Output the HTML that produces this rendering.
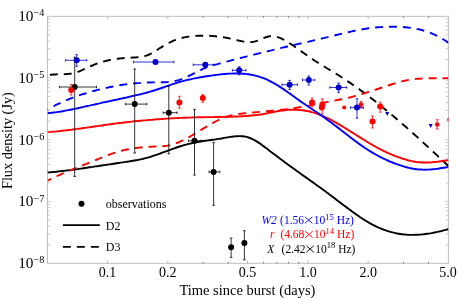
<!DOCTYPE html><html><head><meta charset="utf-8"><style>html,body{margin:0;padding:0;background:#fff;width:458px;height:299px;overflow:hidden}</style></head><body><svg width="458" height="299" viewBox="0 0 458 299" style="position:absolute;left:0;top:0;will-change:transform">
<defs><clipPath id="c"><rect x="47.5" y="16.3" width="400.9" height="247.0"/></clipPath></defs>
<rect x="47.5" y="16.3" width="400.9" height="247.0" fill="none" stroke="#bebebe" stroke-width="1"/>
<path d="M203.1,263.3v-1.4M203.1,16.3v1.4M228.2,263.3v-1.4M228.2,16.3v1.4M263.4,263.3v-1.4M263.4,16.3v1.4M276.9,263.3v-1.4M276.9,16.3v1.4M288.5,263.3v-1.4M288.5,16.3v1.4M298.7,263.3v-1.4M298.7,16.3v1.4M403.5,263.3v-1.4M403.5,16.3v1.4M428.6,263.3v-1.4M428.6,16.3v1.4" stroke="#484848" stroke-width="0.8" fill="none"/>
<path d="M107.5,263.3v-2.6M107.5,16.3v2.6M167.8,263.3v-2.6M167.8,16.3v2.6M247.6,263.3v-2.6M247.6,16.3v2.6M307.9,263.3v-2.6M307.9,16.3v2.6M368.2,263.3v-2.6M368.2,16.3v2.6" stroke="#b0b0b0" stroke-width="0.9" fill="none"/>
<path d="M47.5,244.7h2.6M448.4,244.7h-2.6M47.5,233.8h2.6M448.4,233.8h-2.6M47.5,226.1h2.6M448.4,226.1h-2.6M47.5,220.1h2.6M448.4,220.1h-2.6M47.5,215.2h2.6M448.4,215.2h-2.6M47.5,211.1h2.6M448.4,211.1h-2.6M47.5,207.5h2.6M448.4,207.5h-2.6M47.5,204.4h2.6M448.4,204.4h-2.6M47.5,201.6h3.4M448.4,201.6h-3.4M47.5,183.0h2.6M448.4,183.0h-2.6M47.5,172.1h2.6M448.4,172.1h-2.6M47.5,164.4h2.6M448.4,164.4h-2.6M47.5,158.4h2.6M448.4,158.4h-2.6M47.5,153.5h2.6M448.4,153.5h-2.6M47.5,149.4h2.6M448.4,149.4h-2.6M47.5,145.8h2.6M448.4,145.8h-2.6M47.5,142.6h2.6M448.4,142.6h-2.6M47.5,139.8h3.4M448.4,139.8h-3.4M47.5,121.2h2.6M448.4,121.2h-2.6M47.5,110.3h2.6M448.4,110.3h-2.6M47.5,102.6h2.6M448.4,102.6h-2.6M47.5,96.6h2.6M448.4,96.6h-2.6M47.5,91.7h2.6M448.4,91.7h-2.6M47.5,87.6h2.6M448.4,87.6h-2.6M47.5,84.0h2.6M448.4,84.0h-2.6M47.5,80.9h2.6M448.4,80.9h-2.6M47.5,78.0h3.4M448.4,78.0h-3.4M47.5,59.5h2.6M448.4,59.5h-2.6M47.5,48.6h2.6M448.4,48.6h-2.6M47.5,40.9h2.6M448.4,40.9h-2.6M47.5,34.9h2.6M448.4,34.9h-2.6M47.5,30.0h2.6M448.4,30.0h-2.6M47.5,25.9h2.6M448.4,25.9h-2.6M47.5,22.3h2.6M448.4,22.3h-2.6M47.5,19.1h2.6M448.4,19.1h-2.6" stroke="#bbbbbb" stroke-width="0.8" fill="none"/>
<g clip-path="url(#c)" fill="none" stroke-width="1.9" stroke-linejoin="round">
<path d="M47.5,172.6 C48.0,172.5 49.5,172.4 50.5,172.3 C51.5,172.2 52.5,172.1 53.5,172.0 C54.5,171.9 55.5,171.8 56.5,171.7 C57.5,171.6 58.5,171.5 59.5,171.3 C60.5,171.2 61.5,171.1 62.5,171.0 C63.5,170.9 64.5,170.8 65.5,170.6 C66.5,170.5 67.5,170.4 68.5,170.3 C69.5,170.1 70.5,170.0 71.5,169.9 C72.5,169.7 73.5,169.6 74.5,169.5 C75.5,169.3 76.5,169.2 77.5,169.1 C78.5,168.9 79.5,168.8 80.5,168.6 C81.5,168.5 82.5,168.4 83.5,168.2 C84.5,168.1 85.5,167.9 86.5,167.8 C87.5,167.6 88.5,167.5 89.5,167.3 C90.5,167.2 91.5,167.0 92.5,166.9 C93.5,166.7 94.5,166.6 95.5,166.4 C96.5,166.3 97.5,166.1 98.5,166.0 C99.5,165.8 100.5,165.7 101.5,165.5 C102.5,165.4 103.5,165.2 104.5,165.1 C105.5,164.9 106.5,164.8 107.5,164.6 C108.5,164.5 109.5,164.3 110.5,164.2 C111.5,164.0 112.5,163.9 113.5,163.7 C114.5,163.5 115.5,163.4 116.5,163.2 C117.5,163.1 118.5,162.9 119.5,162.8 C120.5,162.6 121.5,162.5 122.5,162.4 C123.5,162.2 124.5,162.1 125.5,161.9 C126.5,161.8 127.5,161.6 128.5,161.5 C129.5,161.3 130.5,161.2 131.5,161.0 C132.5,160.8 133.5,160.7 134.5,160.5 C135.5,160.3 136.5,160.1 137.5,160.0 C138.5,159.8 139.5,159.6 140.5,159.4 C141.5,159.1 142.5,158.9 143.5,158.7 C144.5,158.5 145.5,158.2 146.5,157.9 C147.5,157.7 148.5,157.4 149.5,157.1 C150.5,156.8 151.5,156.5 152.5,156.2 C153.5,155.8 154.5,155.5 155.5,155.2 C156.5,154.8 157.5,154.5 158.5,154.1 C159.5,153.7 160.5,153.4 161.5,153.0 C162.5,152.6 163.5,152.3 164.5,151.9 C165.5,151.5 166.5,151.2 167.5,150.8 C168.5,150.4 169.5,150.0 170.5,149.7 C171.5,149.3 172.5,148.9 173.5,148.6 C174.5,148.2 175.5,147.9 176.5,147.5 C177.5,147.2 178.5,146.9 179.5,146.5 C180.5,146.2 181.5,145.9 182.5,145.6 C183.5,145.3 184.5,145.0 185.5,144.7 C186.5,144.4 187.5,144.2 188.5,143.9 C189.5,143.7 190.5,143.4 191.5,143.2 C192.5,143.0 193.5,142.8 194.5,142.6 C195.5,142.4 196.5,142.2 197.5,142.0 C198.5,141.8 199.5,141.7 200.5,141.5 C201.5,141.3 202.5,141.2 203.5,141.0 C204.5,140.9 205.5,140.7 206.5,140.6 C207.5,140.5 208.5,140.3 209.5,140.2 C210.5,140.1 211.5,139.9 212.5,139.8 C213.5,139.7 214.5,139.5 215.5,139.4 C216.5,139.2 217.5,139.1 218.5,138.9 C219.5,138.8 220.5,138.6 221.5,138.5 C222.5,138.3 223.5,138.1 224.5,137.9 C225.5,137.8 226.5,137.6 227.5,137.4 C228.5,137.2 229.5,137.1 230.5,136.9 C231.5,136.8 232.5,136.6 233.5,136.5 C234.5,136.4 235.5,136.3 236.5,136.2 C237.5,136.1 238.5,136.1 239.5,136.1 C240.5,136.1 241.5,136.1 242.5,136.2 C243.5,136.3 244.5,136.4 245.5,136.6 C246.5,136.9 247.5,137.1 248.5,137.5 C249.5,137.8 250.5,138.2 251.5,138.7 C252.5,139.1 253.5,139.6 254.5,140.2 C255.5,140.7 256.5,141.3 257.5,141.9 C258.5,142.6 259.5,143.2 260.5,143.9 C261.5,144.6 262.5,145.4 263.5,146.1 C264.5,146.8 265.5,147.6 266.5,148.3 C267.5,149.1 268.5,149.9 269.5,150.7 C270.5,151.4 271.5,152.2 272.5,153.0 C273.5,153.7 274.5,154.5 275.5,155.2 C276.5,156.0 277.5,156.7 278.5,157.5 C279.5,158.3 280.5,159.0 281.5,159.7 C282.5,160.5 283.5,161.2 284.5,162.0 C285.5,162.7 286.5,163.4 287.5,164.2 C288.5,164.9 289.5,165.6 290.5,166.4 C291.5,167.1 292.5,167.8 293.5,168.5 C294.5,169.2 295.5,170.0 296.5,170.7 C297.5,171.4 298.5,172.1 299.5,172.8 C300.5,173.5 301.5,174.3 302.5,175.0 C303.5,175.7 304.5,176.4 305.5,177.1 C306.5,177.8 307.5,178.5 308.5,179.2 C309.5,179.9 310.5,180.7 311.5,181.4 C312.5,182.1 313.5,182.8 314.5,183.5 C315.5,184.2 316.5,184.9 317.5,185.7 C318.5,186.4 319.5,187.1 320.5,187.8 C321.5,188.6 322.5,189.3 323.5,190.0 C324.5,190.7 325.5,191.5 326.5,192.2 C327.5,193.0 328.5,193.7 329.5,194.5 C330.5,195.2 331.5,196.0 332.5,196.7 C333.5,197.5 334.5,198.2 335.5,199.0 C336.5,199.8 337.5,200.5 338.5,201.3 C339.5,202.0 340.5,202.8 341.5,203.6 C342.5,204.3 343.5,205.1 344.5,205.8 C345.5,206.6 346.5,207.4 347.5,208.1 C348.5,208.9 349.5,209.6 350.5,210.3 C351.5,211.1 352.5,211.8 353.5,212.5 C354.5,213.2 355.5,213.9 356.5,214.6 C357.5,215.3 358.5,216.0 359.5,216.7 C360.5,217.4 361.5,218.0 362.5,218.7 C363.5,219.3 364.5,220.0 365.5,220.6 C366.5,221.2 367.5,221.8 368.5,222.4 C369.5,222.9 370.5,223.5 371.5,224.1 C372.5,224.6 373.5,225.1 374.5,225.6 C375.5,226.1 376.5,226.6 377.5,227.1 C378.5,227.5 379.5,228.0 380.5,228.4 C381.5,228.8 382.5,229.2 383.5,229.6 C384.5,230.0 385.5,230.3 386.5,230.7 C387.5,231.0 388.5,231.3 389.5,231.6 C390.5,231.9 391.5,232.2 392.5,232.4 C393.5,232.7 394.5,232.9 395.5,233.1 C396.5,233.4 397.5,233.6 398.5,233.7 C399.5,233.9 400.5,234.1 401.5,234.2 C402.5,234.3 403.5,234.4 404.5,234.5 C405.5,234.6 406.5,234.7 407.5,234.8 C408.5,234.8 409.5,234.9 410.5,234.9 C411.5,234.9 412.5,234.9 413.5,234.9 C414.5,234.9 415.5,234.9 416.5,234.8 C417.5,234.8 418.5,234.7 419.5,234.6 C420.5,234.6 421.5,234.5 422.5,234.4 C423.5,234.3 424.5,234.1 425.5,234.0 C426.5,233.9 427.5,233.7 428.5,233.6 C429.5,233.4 430.5,233.2 431.5,233.1 C432.5,232.9 433.5,232.7 434.5,232.5 C435.5,232.3 436.5,232.1 437.5,231.9 C438.5,231.6 439.5,231.4 440.5,231.2 C441.5,230.9 442.5,230.7 443.5,230.4 C444.5,230.2 445.7,229.9 446.5,229.7 C447.3,229.4 448.2,229.2 448.5,229.1" stroke="#000000"/>
<path d="M47.5,75.3 C48.0,75.2 49.5,74.9 50.5,74.8 C51.5,74.7 52.5,74.6 53.5,74.5 C54.5,74.5 55.5,74.4 56.5,74.4 C57.5,74.3 58.5,74.3 59.5,74.3 C60.5,74.3 61.5,74.3 62.5,74.2 C63.5,74.2 64.5,74.2 65.5,74.1 C66.5,74.0 67.5,74.0 68.5,73.9 C69.5,73.8 70.5,73.6 71.5,73.5 C72.5,73.3 73.5,73.1 74.5,72.8 C75.5,72.6 76.5,72.2 77.5,71.9 C78.5,71.6 79.5,71.2 80.5,70.8 C81.5,70.4 82.5,70.0 83.5,69.5 C84.5,69.1 85.5,68.6 86.5,68.2 C87.5,67.7 88.5,67.2 89.5,66.8 C90.5,66.3 91.5,65.9 92.5,65.5 C93.5,65.0 94.5,64.6 95.5,64.2 C96.5,63.8 97.5,63.5 98.5,63.1 C99.5,62.8 100.5,62.4 101.5,62.1 C102.5,61.8 103.5,61.5 104.5,61.3 C105.5,61.0 106.5,60.8 107.5,60.5 C108.5,60.3 109.5,60.1 110.5,59.9 C111.5,59.7 112.5,59.5 113.5,59.3 C114.5,59.2 115.5,59.0 116.5,58.9 C117.5,58.7 118.5,58.6 119.5,58.5 C120.5,58.4 121.5,58.3 122.5,58.2 C123.5,58.1 124.5,58.0 125.5,58.0 C126.5,57.9 127.5,57.9 128.5,57.8 C129.5,57.8 130.5,57.7 131.5,57.6 C132.5,57.6 133.5,57.5 134.5,57.5 C135.5,57.4 136.5,57.3 137.5,57.2 C138.5,57.1 139.5,57.0 140.5,56.9 C141.5,56.7 142.5,56.5 143.5,56.3 C144.5,56.1 145.5,55.9 146.5,55.6 C147.5,55.2 148.5,54.9 149.5,54.4 C150.5,54.0 151.5,53.4 152.5,52.9 C153.5,52.3 154.5,51.7 155.5,51.0 C156.5,50.4 157.5,49.7 158.5,49.0 C159.5,48.4 160.5,47.7 161.5,47.1 C162.5,46.4 163.5,45.8 164.5,45.2 C165.5,44.7 166.5,44.1 167.5,43.6 C168.5,43.1 169.5,42.6 170.5,42.1 C171.5,41.6 172.5,41.2 173.5,40.7 C174.5,40.3 175.5,39.9 176.5,39.6 C177.5,39.2 178.5,38.9 179.5,38.6 C180.5,38.3 181.5,38.0 182.5,37.8 C183.5,37.6 184.5,37.3 185.5,37.1 C186.5,36.9 187.5,36.8 188.5,36.6 C189.5,36.5 190.5,36.3 191.5,36.2 C192.5,36.1 193.5,36.0 194.5,36.0 C195.5,35.9 196.5,35.8 197.5,35.8 C198.5,35.7 199.5,35.7 200.5,35.7 C201.5,35.7 202.5,35.7 203.5,35.7 C204.5,35.7 205.5,35.7 206.5,35.7 C207.5,35.8 208.5,35.8 209.5,35.8 C210.5,35.9 211.5,35.9 212.5,36.0 C213.5,36.1 214.5,36.2 215.5,36.3 C216.5,36.4 217.5,36.5 218.5,36.6 C219.5,36.7 220.5,36.8 221.5,37.0 C222.5,37.1 223.5,37.3 224.5,37.4 C225.5,37.6 226.5,37.8 227.5,38.0 C228.5,38.2 229.5,38.4 230.5,38.6 C231.5,38.8 232.5,39.0 233.5,39.3 C234.5,39.5 235.5,39.8 236.5,40.0 C237.5,40.3 238.5,40.5 239.5,40.8 C240.5,41.0 241.5,41.2 242.5,41.4 C243.5,41.6 244.5,41.8 245.5,41.9 C246.5,42.0 247.5,42.1 248.5,42.1 C249.5,42.2 250.5,42.2 251.5,42.1 C252.5,42.0 253.5,41.9 254.5,41.6 C255.5,41.4 256.5,41.1 257.5,40.7 C258.5,40.4 259.5,39.9 260.5,39.5 C261.5,39.1 262.5,38.6 263.5,38.2 C264.5,37.8 265.5,37.4 266.5,37.0 C267.5,36.7 268.5,36.4 269.5,36.3 C270.5,36.1 271.5,36.0 272.5,36.1 C273.5,36.1 274.5,36.3 275.5,36.5 C276.5,36.7 277.5,37.0 278.5,37.4 C279.5,37.7 280.5,38.2 281.5,38.6 C282.5,39.1 283.5,39.6 284.5,40.2 C285.5,40.7 286.5,41.3 287.5,41.9 C288.5,42.5 289.5,43.2 290.5,43.8 C291.5,44.5 292.5,45.1 293.5,45.8 C294.5,46.5 295.5,47.2 296.5,47.9 C297.5,48.6 298.5,49.3 299.5,50.0 C300.5,50.7 301.5,51.4 302.5,52.2 C303.5,52.9 304.5,53.6 305.5,54.3 C306.5,55.0 307.5,55.7 308.5,56.4 C309.5,57.1 310.5,57.8 311.5,58.5 C312.5,59.2 313.5,59.8 314.5,60.5 C315.5,61.1 316.5,61.8 317.5,62.4 C318.5,63.0 319.5,63.7 320.5,64.3 C321.5,64.9 322.5,65.5 323.5,66.1 C324.5,66.8 325.5,67.4 326.5,68.0 C327.5,68.6 328.5,69.2 329.5,69.8 C330.5,70.4 331.5,71.0 332.5,71.6 C333.5,72.2 334.5,72.8 335.5,73.4 C336.5,74.0 337.5,74.6 338.5,75.3 C339.5,75.9 340.5,76.5 341.5,77.2 C342.5,77.8 343.5,78.4 344.5,79.1 C345.5,79.8 346.5,80.4 347.5,81.1 C348.5,81.8 349.5,82.4 350.5,83.1 C351.5,83.8 352.5,84.5 353.5,85.2 C354.5,85.9 355.5,86.6 356.5,87.3 C357.5,88.0 358.5,88.7 359.5,89.4 C360.5,90.2 361.5,90.9 362.5,91.6 C363.5,92.4 364.5,93.1 365.5,93.9 C366.5,94.6 367.5,95.4 368.5,96.1 C369.5,96.9 370.5,97.6 371.5,98.4 C372.5,99.2 373.5,100.0 374.5,100.8 C375.5,101.5 376.5,102.3 377.5,103.1 C378.5,103.9 379.5,104.7 380.5,105.5 C381.5,106.3 382.5,107.1 383.5,108.0 C384.5,108.8 385.5,109.6 386.5,110.4 C387.5,111.2 388.5,112.1 389.5,112.9 C390.5,113.7 391.5,114.6 392.5,115.4 C393.5,116.3 394.5,117.1 395.5,118.0 C396.5,118.8 397.5,119.7 398.5,120.5 C399.5,121.4 400.5,122.3 401.5,123.1 C402.5,124.0 403.5,124.9 404.5,125.8 C405.5,126.6 406.5,127.5 407.5,128.4 C408.5,129.3 409.5,130.2 410.5,131.1 C411.5,132.0 412.5,132.8 413.5,133.7 C414.5,134.6 415.5,135.5 416.5,136.4 C417.5,137.3 418.5,138.3 419.5,139.2 C420.5,140.1 421.5,141.0 422.5,141.9 C423.5,142.8 424.5,143.7 425.5,144.7 C426.5,145.6 427.5,146.5 428.5,147.4 C429.5,148.3 430.5,149.3 431.5,150.2 C432.5,151.1 433.5,152.1 434.5,153.0 C435.5,153.9 436.5,154.9 437.5,155.8 C438.5,156.7 439.5,157.7 440.5,158.6 C441.5,159.5 442.5,160.5 443.5,161.4 C444.5,162.4 445.7,163.5 446.5,164.3 C447.3,165.0 448.2,165.8 448.5,166.1" stroke="#000000" stroke-dasharray="7.9,5.98" stroke-dashoffset="11.40"/>
<path d="M47.5,132.1 C48.0,132.0 49.5,131.9 50.5,131.9 C51.5,131.8 52.5,131.7 53.5,131.6 C54.5,131.5 55.5,131.4 56.5,131.4 C57.5,131.3 58.5,131.2 59.5,131.1 C60.5,131.0 61.5,130.8 62.5,130.7 C63.5,130.6 64.5,130.5 65.5,130.4 C66.5,130.3 67.5,130.2 68.5,130.0 C69.5,129.9 70.5,129.8 71.5,129.7 C72.5,129.5 73.5,129.4 74.5,129.3 C75.5,129.2 76.5,129.0 77.5,128.9 C78.5,128.7 79.5,128.6 80.5,128.5 C81.5,128.3 82.5,128.2 83.5,128.0 C84.5,127.9 85.5,127.8 86.5,127.6 C87.5,127.5 88.5,127.3 89.5,127.2 C90.5,127.0 91.5,126.9 92.5,126.8 C93.5,126.6 94.5,126.5 95.5,126.3 C96.5,126.2 97.5,126.0 98.5,125.9 C99.5,125.7 100.5,125.6 101.5,125.5 C102.5,125.3 103.5,125.2 104.5,125.0 C105.5,124.9 106.5,124.7 107.5,124.6 C108.5,124.5 109.5,124.3 110.5,124.2 C111.5,124.1 112.5,123.9 113.5,123.8 C114.5,123.7 115.5,123.5 116.5,123.4 C117.5,123.3 118.5,123.1 119.5,123.0 C120.5,122.9 121.5,122.8 122.5,122.7 C123.5,122.5 124.5,122.4 125.5,122.3 C126.5,122.2 127.5,122.1 128.5,122.0 C129.5,121.8 130.5,121.7 131.5,121.6 C132.5,121.5 133.5,121.4 134.5,121.3 C135.5,121.2 136.5,121.1 137.5,121.0 C138.5,120.9 139.5,120.8 140.5,120.7 C141.5,120.6 142.5,120.5 143.5,120.4 C144.5,120.3 145.5,120.2 146.5,120.2 C147.5,120.1 148.5,120.0 149.5,119.9 C150.5,119.8 151.5,119.7 152.5,119.7 C153.5,119.6 154.5,119.5 155.5,119.4 C156.5,119.3 157.5,119.3 158.5,119.2 C159.5,119.1 160.5,119.0 161.5,119.0 C162.5,118.9 163.5,118.8 164.5,118.8 C165.5,118.7 166.5,118.6 167.5,118.6 C168.5,118.5 169.5,118.5 170.5,118.4 C171.5,118.4 172.5,118.3 173.5,118.2 C174.5,118.2 175.5,118.1 176.5,118.1 C177.5,118.0 178.5,118.0 179.5,117.9 C180.5,117.9 181.5,117.8 182.5,117.8 C183.5,117.8 184.5,117.7 185.5,117.7 C186.5,117.6 187.5,117.6 188.5,117.6 C189.5,117.5 190.5,117.5 191.5,117.5 C192.5,117.4 193.5,117.4 194.5,117.4 C195.5,117.4 196.5,117.3 197.5,117.3 C198.5,117.3 199.5,117.3 200.5,117.2 C201.5,117.2 202.5,117.2 203.5,117.2 C204.5,117.2 205.5,117.2 206.5,117.1 C207.5,117.1 208.5,117.1 209.5,117.1 C210.5,117.1 211.5,117.1 212.5,117.1 C213.5,117.0 214.5,117.0 215.5,117.0 C216.5,117.0 217.5,117.0 218.5,117.0 C219.5,117.0 220.5,116.9 221.5,116.9 C222.5,116.9 223.5,116.9 224.5,116.9 C225.5,116.8 226.5,116.8 227.5,116.8 C228.5,116.8 229.5,116.7 230.5,116.7 C231.5,116.7 232.5,116.7 233.5,116.6 C234.5,116.6 235.5,116.5 236.5,116.5 C237.5,116.5 238.5,116.4 239.5,116.4 C240.5,116.3 241.5,116.3 242.5,116.2 C243.5,116.1 244.5,116.1 245.5,116.0 C246.5,115.9 247.5,115.9 248.5,115.8 C249.5,115.7 250.5,115.6 251.5,115.5 C252.5,115.4 253.5,115.3 254.5,115.2 C255.5,115.1 256.5,115.0 257.5,114.9 C258.5,114.8 259.5,114.6 260.5,114.5 C261.5,114.3 262.5,114.1 263.5,114.0 C264.5,113.8 265.5,113.6 266.5,113.4 C267.5,113.2 268.5,113.0 269.5,112.8 C270.5,112.6 271.5,112.4 272.5,112.2 C273.5,112.0 274.5,111.8 275.5,111.6 C276.5,111.4 277.5,111.2 278.5,111.0 C279.5,110.9 280.5,110.7 281.5,110.6 C282.5,110.4 283.5,110.3 284.5,110.2 C285.5,110.1 286.5,110.0 287.5,109.9 C288.5,109.8 289.5,109.8 290.5,109.7 C291.5,109.7 292.5,109.7 293.5,109.7 C294.5,109.7 295.5,109.7 296.5,109.8 C297.5,109.8 298.5,109.9 299.5,110.0 C300.5,110.0 301.5,110.2 302.5,110.3 C303.5,110.4 304.5,110.6 305.5,110.7 C306.5,110.9 307.5,111.1 308.5,111.3 C309.5,111.5 310.5,111.8 311.5,112.1 C312.5,112.3 313.5,112.6 314.5,112.9 C315.5,113.2 316.5,113.6 317.5,113.9 C318.5,114.3 319.5,114.7 320.5,115.1 C321.5,115.5 322.5,115.9 323.5,116.3 C324.5,116.8 325.5,117.2 326.5,117.7 C327.5,118.2 328.5,118.7 329.5,119.2 C330.5,119.7 331.5,120.2 332.5,120.7 C333.5,121.3 334.5,121.8 335.5,122.4 C336.5,122.9 337.5,123.5 338.5,124.1 C339.5,124.7 340.5,125.3 341.5,125.9 C342.5,126.5 343.5,127.1 344.5,127.7 C345.5,128.3 346.5,128.9 347.5,129.5 C348.5,130.1 349.5,130.8 350.5,131.4 C351.5,132.0 352.5,132.7 353.5,133.3 C354.5,133.9 355.5,134.6 356.5,135.2 C357.5,135.8 358.5,136.5 359.5,137.1 C360.5,137.7 361.5,138.3 362.5,139.0 C363.5,139.6 364.5,140.2 365.5,140.8 C366.5,141.4 367.5,142.1 368.5,142.7 C369.5,143.3 370.5,143.9 371.5,144.4 C372.5,145.0 373.5,145.6 374.5,146.2 C375.5,146.7 376.5,147.3 377.5,147.8 C378.5,148.4 379.5,148.9 380.5,149.4 C381.5,149.9 382.5,150.4 383.5,150.9 C384.5,151.4 385.5,151.9 386.5,152.3 C387.5,152.8 388.5,153.2 389.5,153.7 C390.5,154.1 391.5,154.5 392.5,154.9 C393.5,155.3 394.5,155.7 395.5,156.1 C396.5,156.5 397.5,156.9 398.5,157.2 C399.5,157.6 400.5,157.9 401.5,158.3 C402.5,158.6 403.5,158.9 404.5,159.2 C405.5,159.5 406.5,159.8 407.5,160.1 C408.5,160.4 409.5,160.6 410.5,160.9 C411.5,161.1 412.5,161.3 413.5,161.5 C414.5,161.7 415.5,161.8 416.5,162.0 C417.5,162.1 418.5,162.2 419.5,162.3 C420.5,162.4 421.5,162.5 422.5,162.5 C423.5,162.5 424.5,162.5 425.5,162.5 C426.5,162.5 427.5,162.5 428.5,162.5 C429.5,162.4 430.5,162.3 431.5,162.3 C432.5,162.2 433.5,162.1 434.5,162.0 C435.5,161.9 436.5,161.8 437.5,161.7 C438.5,161.5 439.5,161.4 440.5,161.3 C441.5,161.1 442.5,161.0 443.5,160.8 C444.5,160.7 445.7,160.5 446.5,160.4 C447.3,160.2 448.2,160.1 448.5,160.0" stroke="#ff0000"/>
<path d="M47.5,180.7 C48.0,180.5 49.5,179.7 50.5,179.2 C51.5,178.7 52.5,178.2 53.5,177.8 C54.5,177.3 55.5,176.8 56.5,176.4 C57.5,175.9 58.5,175.5 59.5,175.0 C60.5,174.6 61.5,174.1 62.5,173.7 C63.5,173.3 64.5,172.8 65.5,172.4 C66.5,172.0 67.5,171.5 68.5,171.1 C69.5,170.7 70.5,170.3 71.5,169.9 C72.5,169.5 73.5,169.1 74.5,168.6 C75.5,168.2 76.5,167.8 77.5,167.4 C78.5,167.0 79.5,166.6 80.5,166.2 C81.5,165.8 82.5,165.4 83.5,165.0 C84.5,164.6 85.5,164.2 86.5,163.8 C87.5,163.4 88.5,163.0 89.5,162.6 C90.5,162.1 91.5,161.7 92.5,161.3 C93.5,160.9 94.5,160.5 95.5,160.1 C96.5,159.7 97.5,159.3 98.5,158.9 C99.5,158.5 100.5,158.0 101.5,157.6 C102.5,157.2 103.5,156.9 104.5,156.5 C105.5,156.1 106.5,155.7 107.5,155.3 C108.5,154.9 109.5,154.6 110.5,154.2 C111.5,153.9 112.5,153.5 113.5,153.2 C114.5,152.8 115.5,152.5 116.5,152.2 C117.5,151.9 118.5,151.6 119.5,151.3 C120.5,151.0 121.5,150.8 122.5,150.5 C123.5,150.3 124.5,150.0 125.5,149.8 C126.5,149.6 127.5,149.4 128.5,149.2 C129.5,149.0 130.5,148.8 131.5,148.7 C132.5,148.5 133.5,148.3 134.5,148.2 C135.5,148.1 136.5,147.9 137.5,147.8 C138.5,147.7 139.5,147.6 140.5,147.5 C141.5,147.4 142.5,147.3 143.5,147.2 C144.5,147.1 145.5,147.0 146.5,147.0 C147.5,146.9 148.5,146.8 149.5,146.8 C150.5,146.7 151.5,146.7 152.5,146.6 C153.5,146.6 154.5,146.6 155.5,146.5 C156.5,146.5 157.5,146.5 158.5,146.4 C159.5,146.4 160.5,146.4 161.5,146.3 C162.5,146.2 163.5,146.2 164.5,146.0 C165.5,145.9 166.5,145.8 167.5,145.6 C168.5,145.4 169.5,145.2 170.5,145.0 C171.5,144.7 172.5,144.5 173.5,144.1 C174.5,143.8 175.5,143.5 176.5,143.1 C177.5,142.7 178.5,142.3 179.5,141.9 C180.5,141.4 181.5,141.0 182.5,140.5 C183.5,140.0 184.5,139.5 185.5,139.0 C186.5,138.5 187.5,137.9 188.5,137.4 C189.5,136.8 190.5,136.3 191.5,135.7 C192.5,135.1 193.5,134.5 194.5,133.9 C195.5,133.3 196.5,132.7 197.5,132.1 C198.5,131.5 199.5,130.9 200.5,130.3 C201.5,129.7 202.5,129.1 203.5,128.4 C204.5,127.8 205.5,127.2 206.5,126.6 C207.5,126.0 208.5,125.4 209.5,124.9 C210.5,124.3 211.5,123.7 212.5,123.1 C213.5,122.6 214.5,122.0 215.5,121.5 C216.5,121.0 217.5,120.5 218.5,120.0 C219.5,119.5 220.5,119.1 221.5,118.6 C222.5,118.2 223.5,117.8 224.5,117.5 C225.5,117.1 226.5,116.8 227.5,116.5 C228.5,116.1 229.5,115.9 230.5,115.6 C231.5,115.3 232.5,115.1 233.5,114.9 C234.5,114.7 235.5,114.5 236.5,114.3 C237.5,114.2 238.5,114.0 239.5,113.9 C240.5,113.7 241.5,113.6 242.5,113.5 C243.5,113.4 244.5,113.3 245.5,113.2 C246.5,113.1 247.5,113.0 248.5,112.9 C249.5,112.8 250.5,112.7 251.5,112.6 C252.5,112.5 253.5,112.5 254.5,112.4 C255.5,112.3 256.5,112.2 257.5,112.1 C258.5,112.0 259.5,111.9 260.5,111.8 C261.5,111.8 262.5,111.7 263.5,111.6 C264.5,111.5 265.5,111.4 266.5,111.3 C267.5,111.2 268.5,111.1 269.5,111.0 C270.5,110.9 271.5,110.8 272.5,110.7 C273.5,110.6 274.5,110.5 275.5,110.4 C276.5,110.3 277.5,110.2 278.5,110.1 C279.5,110.0 280.5,109.9 281.5,109.8 C282.5,109.7 283.5,109.5 284.5,109.4 C285.5,109.3 286.5,109.2 287.5,109.0 C288.5,108.9 289.5,108.8 290.5,108.6 C291.5,108.5 292.5,108.4 293.5,108.2 C294.5,108.1 295.5,107.9 296.5,107.8 C297.5,107.6 298.5,107.5 299.5,107.3 C300.5,107.1 301.5,107.0 302.5,106.8 C303.5,106.6 304.5,106.4 305.5,106.3 C306.5,106.1 307.5,105.9 308.5,105.7 C309.5,105.5 310.5,105.3 311.5,105.1 C312.5,104.9 313.5,104.7 314.5,104.5 C315.5,104.4 316.5,104.2 317.5,104.0 C318.5,103.8 319.5,103.5 320.5,103.3 C321.5,103.1 322.5,102.9 323.5,102.7 C324.5,102.5 325.5,102.3 326.5,102.1 C327.5,101.9 328.5,101.7 329.5,101.5 C330.5,101.4 331.5,101.2 332.5,101.0 C333.5,100.8 334.5,100.6 335.5,100.4 C336.5,100.2 337.5,100.0 338.5,99.8 C339.5,99.6 340.5,99.4 341.5,99.2 C342.5,99.0 343.5,98.8 344.5,98.6 C345.5,98.4 346.5,98.1 347.5,97.9 C348.5,97.7 349.5,97.4 350.5,97.2 C351.5,96.9 352.5,96.7 353.5,96.4 C354.5,96.1 355.5,95.9 356.5,95.6 C357.5,95.3 358.5,95.0 359.5,94.7 C360.5,94.4 361.5,94.1 362.5,93.8 C363.5,93.5 364.5,93.2 365.5,92.9 C366.5,92.6 367.5,92.3 368.5,92.0 C369.5,91.7 370.5,91.3 371.5,91.0 C372.5,90.7 373.5,90.3 374.5,90.0 C375.5,89.7 376.5,89.4 377.5,89.0 C378.5,88.7 379.5,88.4 380.5,88.0 C381.5,87.7 382.5,87.3 383.5,87.0 C384.5,86.7 385.5,86.3 386.5,86.0 C387.5,85.7 388.5,85.3 389.5,85.0 C390.5,84.7 391.5,84.4 392.5,84.0 C393.5,83.7 394.5,83.4 395.5,83.1 C396.5,82.8 397.5,82.5 398.5,82.2 C399.5,81.9 400.5,81.7 401.5,81.4 C402.5,81.2 403.5,80.9 404.5,80.7 C405.5,80.5 406.5,80.3 407.5,80.1 C408.5,80.0 409.5,79.8 410.5,79.6 C411.5,79.5 412.5,79.4 413.5,79.3 C414.5,79.1 415.5,79.0 416.5,78.9 C417.5,78.8 418.5,78.8 419.5,78.7 C420.5,78.6 421.5,78.6 422.5,78.5 C423.5,78.5 424.5,78.4 425.5,78.4 C426.5,78.4 427.5,78.3 428.5,78.3 C429.5,78.3 430.5,78.3 431.5,78.3 C432.5,78.3 433.5,78.3 434.5,78.3 C435.5,78.3 436.5,78.3 437.5,78.3 C438.5,78.3 439.5,78.3 440.5,78.3 C441.5,78.3 442.5,78.3 443.5,78.3 C444.5,78.3 445.7,78.3 446.5,78.3 C447.3,78.3 448.2,78.3 448.5,78.3" stroke="#ff0000" stroke-dasharray="7.9,5.98" stroke-dashoffset="3.80"/>
<path d="M47.5,113.2 C48.0,113.1 49.5,113.0 50.5,112.9 C51.5,112.8 52.5,112.6 53.5,112.5 C54.5,112.4 55.5,112.3 56.5,112.1 C57.5,112.0 58.5,111.8 59.5,111.7 C60.5,111.5 61.5,111.3 62.5,111.2 C63.5,111.0 64.5,110.8 65.5,110.6 C66.5,110.5 67.5,110.3 68.5,110.1 C69.5,109.9 70.5,109.7 71.5,109.5 C72.5,109.3 73.5,109.1 74.5,108.9 C75.5,108.7 76.5,108.4 77.5,108.2 C78.5,108.0 79.5,107.8 80.5,107.6 C81.5,107.4 82.5,107.1 83.5,106.9 C84.5,106.7 85.5,106.5 86.5,106.2 C87.5,106.0 88.5,105.8 89.5,105.6 C90.5,105.3 91.5,105.1 92.5,104.9 C93.5,104.7 94.5,104.4 95.5,104.2 C96.5,104.0 97.5,103.8 98.5,103.6 C99.5,103.3 100.5,103.1 101.5,102.9 C102.5,102.7 103.5,102.5 104.5,102.2 C105.5,102.0 106.5,101.8 107.5,101.6 C108.5,101.4 109.5,101.2 110.5,101.0 C111.5,100.7 112.5,100.5 113.5,100.3 C114.5,100.1 115.5,99.9 116.5,99.7 C117.5,99.4 118.5,99.2 119.5,99.0 C120.5,98.8 121.5,98.6 122.5,98.3 C123.5,98.1 124.5,97.9 125.5,97.7 C126.5,97.5 127.5,97.2 128.5,97.0 C129.5,96.8 130.5,96.5 131.5,96.3 C132.5,96.1 133.5,95.9 134.5,95.6 C135.5,95.4 136.5,95.2 137.5,94.9 C138.5,94.7 139.5,94.4 140.5,94.2 C141.5,93.9 142.5,93.7 143.5,93.4 C144.5,93.2 145.5,92.9 146.5,92.7 C147.5,92.4 148.5,92.1 149.5,91.8 C150.5,91.5 151.5,91.3 152.5,91.0 C153.5,90.7 154.5,90.3 155.5,90.0 C156.5,89.7 157.5,89.4 158.5,89.0 C159.5,88.7 160.5,88.4 161.5,88.0 C162.5,87.7 163.5,87.3 164.5,87.0 C165.5,86.6 166.5,86.3 167.5,85.9 C168.5,85.6 169.5,85.2 170.5,84.9 C171.5,84.6 172.5,84.2 173.5,83.9 C174.5,83.6 175.5,83.2 176.5,82.9 C177.5,82.6 178.5,82.3 179.5,82.0 C180.5,81.7 181.5,81.5 182.5,81.2 C183.5,80.9 184.5,80.7 185.5,80.4 C186.5,80.2 187.5,80.0 188.5,79.7 C189.5,79.5 190.5,79.3 191.5,79.1 C192.5,78.8 193.5,78.6 194.5,78.4 C195.5,78.2 196.5,78.1 197.5,77.9 C198.5,77.7 199.5,77.5 200.5,77.3 C201.5,77.1 202.5,77.0 203.5,76.8 C204.5,76.6 205.5,76.5 206.5,76.3 C207.5,76.1 208.5,76.0 209.5,75.8 C210.5,75.7 211.5,75.5 212.5,75.4 C213.5,75.2 214.5,75.1 215.5,75.0 C216.5,74.8 217.5,74.7 218.5,74.6 C219.5,74.5 220.5,74.3 221.5,74.2 C222.5,74.1 223.5,74.1 224.5,74.0 C225.5,73.9 226.5,73.8 227.5,73.7 C228.5,73.7 229.5,73.6 230.5,73.6 C231.5,73.5 232.5,73.5 233.5,73.5 C234.5,73.5 235.5,73.5 236.5,73.5 C237.5,73.5 238.5,73.5 239.5,73.5 C240.5,73.6 241.5,73.6 242.5,73.7 C243.5,73.8 244.5,73.8 245.5,73.9 C246.5,74.1 247.5,74.2 248.5,74.3 C249.5,74.5 250.5,74.6 251.5,74.8 C252.5,75.0 253.5,75.2 254.5,75.4 C255.5,75.7 256.5,75.9 257.5,76.2 C258.5,76.5 259.5,76.8 260.5,77.1 C261.5,77.4 262.5,77.8 263.5,78.2 C264.5,78.6 265.5,79.0 266.5,79.4 C267.5,79.9 268.5,80.3 269.5,80.8 C270.5,81.3 271.5,81.8 272.5,82.4 C273.5,82.9 274.5,83.5 275.5,84.1 C276.5,84.7 277.5,85.3 278.5,85.9 C279.5,86.6 280.5,87.2 281.5,87.9 C282.5,88.6 283.5,89.2 284.5,89.9 C285.5,90.6 286.5,91.3 287.5,92.0 C288.5,92.7 289.5,93.4 290.5,94.1 C291.5,94.9 292.5,95.6 293.5,96.3 C294.5,97.0 295.5,97.7 296.5,98.5 C297.5,99.2 298.5,99.9 299.5,100.6 C300.5,101.3 301.5,102.0 302.5,102.7 C303.5,103.4 304.5,104.1 305.5,104.8 C306.5,105.4 307.5,106.1 308.5,106.8 C309.5,107.4 310.5,108.1 311.5,108.7 C312.5,109.4 313.5,110.1 314.5,110.7 C315.5,111.4 316.5,112.1 317.5,112.7 C318.5,113.4 319.5,114.1 320.5,114.8 C321.5,115.5 322.5,116.2 323.5,116.9 C324.5,117.6 325.5,118.4 326.5,119.1 C327.5,119.8 328.5,120.6 329.5,121.3 C330.5,122.0 331.5,122.8 332.5,123.6 C333.5,124.3 334.5,125.1 335.5,125.8 C336.5,126.6 337.5,127.4 338.5,128.1 C339.5,128.9 340.5,129.7 341.5,130.5 C342.5,131.2 343.5,132.0 344.5,132.8 C345.5,133.6 346.5,134.3 347.5,135.1 C348.5,135.9 349.5,136.6 350.5,137.4 C351.5,138.2 352.5,138.9 353.5,139.7 C354.5,140.4 355.5,141.2 356.5,141.9 C357.5,142.6 358.5,143.4 359.5,144.1 C360.5,144.8 361.5,145.5 362.5,146.2 C363.5,146.9 364.5,147.6 365.5,148.2 C366.5,148.9 367.5,149.6 368.5,150.2 C369.5,150.8 370.5,151.5 371.5,152.1 C372.5,152.7 373.5,153.3 374.5,153.8 C375.5,154.4 376.5,155.0 377.5,155.5 C378.5,156.1 379.5,156.6 380.5,157.1 C381.5,157.6 382.5,158.1 383.5,158.6 C384.5,159.0 385.5,159.5 386.5,160.0 C387.5,160.4 388.5,160.8 389.5,161.3 C390.5,161.7 391.5,162.1 392.5,162.5 C393.5,162.9 394.5,163.3 395.5,163.6 C396.5,164.0 397.5,164.4 398.5,164.7 C399.5,165.1 400.5,165.4 401.5,165.7 C402.5,166.1 403.5,166.4 404.5,166.7 C405.5,166.9 406.5,167.2 407.5,167.5 C408.5,167.7 409.5,168.0 410.5,168.2 C411.5,168.4 412.5,168.6 413.5,168.8 C414.5,168.9 415.5,169.1 416.5,169.2 C417.5,169.3 418.5,169.4 419.5,169.5 C420.5,169.5 421.5,169.6 422.5,169.6 C423.5,169.7 424.5,169.7 425.5,169.7 C426.5,169.7 427.5,169.6 428.5,169.6 C429.5,169.5 430.5,169.5 431.5,169.4 C432.5,169.3 433.5,169.2 434.5,169.1 C435.5,169.0 436.5,168.9 437.5,168.8 C438.5,168.6 439.5,168.5 440.5,168.3 C441.5,168.2 442.5,168.0 443.5,167.8 C444.5,167.7 445.7,167.4 446.5,167.3 C447.3,167.1 448.2,166.9 448.5,166.9" stroke="#0000ff"/>
<path d="M47.5,109.7 C48.0,109.4 49.5,108.5 50.5,107.9 C51.5,107.4 52.5,106.8 53.5,106.3 C54.5,105.8 55.5,105.2 56.5,104.7 C57.5,104.2 58.5,103.7 59.5,103.3 C60.5,102.8 61.5,102.3 62.5,101.9 C63.5,101.4 64.5,101.0 65.5,100.5 C66.5,100.1 67.5,99.7 68.5,99.3 C69.5,98.9 70.5,98.5 71.5,98.1 C72.5,97.7 73.5,97.4 74.5,97.0 C75.5,96.6 76.5,96.3 77.5,95.9 C78.5,95.6 79.5,95.3 80.5,94.9 C81.5,94.6 82.5,94.3 83.5,94.0 C84.5,93.7 85.5,93.4 86.5,93.1 C87.5,92.8 88.5,92.5 89.5,92.2 C90.5,91.9 91.5,91.6 92.5,91.3 C93.5,91.1 94.5,90.8 95.5,90.5 C96.5,90.3 97.5,90.0 98.5,89.7 C99.5,89.5 100.5,89.2 101.5,89.0 C102.5,88.7 103.5,88.5 104.5,88.3 C105.5,88.0 106.5,87.8 107.5,87.6 C108.5,87.4 109.5,87.2 110.5,87.0 C111.5,86.8 112.5,86.6 113.5,86.4 C114.5,86.2 115.5,86.0 116.5,85.8 C117.5,85.6 118.5,85.5 119.5,85.3 C120.5,85.1 121.5,85.0 122.5,84.8 C123.5,84.7 124.5,84.5 125.5,84.4 C126.5,84.3 127.5,84.1 128.5,84.0 C129.5,83.9 130.5,83.8 131.5,83.7 C132.5,83.6 133.5,83.5 134.5,83.4 C135.5,83.3 136.5,83.2 137.5,83.1 C138.5,83.0 139.5,82.9 140.5,82.9 C141.5,82.8 142.5,82.8 143.5,82.7 C144.5,82.7 145.5,82.6 146.5,82.6 C147.5,82.5 148.5,82.5 149.5,82.5 C150.5,82.4 151.5,82.4 152.5,82.4 C153.5,82.4 154.5,82.4 155.5,82.4 C156.5,82.4 157.5,82.4 158.5,82.3 C159.5,82.3 160.5,82.3 161.5,82.3 C162.5,82.2 163.5,82.2 164.5,82.2 C165.5,82.1 166.5,82.0 167.5,82.0 C168.5,81.9 169.5,81.8 170.5,81.7 C171.5,81.5 172.5,81.4 173.5,81.2 C174.5,81.0 175.5,80.9 176.5,80.6 C177.5,80.4 178.5,80.1 179.5,79.8 C180.5,79.5 181.5,79.2 182.5,78.8 C183.5,78.5 184.5,78.1 185.5,77.6 C186.5,77.2 187.5,76.7 188.5,76.2 C189.5,75.7 190.5,75.2 191.5,74.7 C192.5,74.2 193.5,73.6 194.5,73.1 C195.5,72.6 196.5,72.1 197.5,71.5 C198.5,71.0 199.5,70.5 200.5,70.0 C201.5,69.5 202.5,69.1 203.5,68.6 C204.5,68.2 205.5,67.8 206.5,67.4 C207.5,67.0 208.5,66.7 209.5,66.4 C210.5,66.1 211.5,65.8 212.5,65.5 C213.5,65.2 214.5,64.9 215.5,64.6 C216.5,64.4 217.5,64.1 218.5,63.8 C219.5,63.5 220.5,63.3 221.5,63.0 C222.5,62.7 223.5,62.5 224.5,62.2 C225.5,61.9 226.5,61.6 227.5,61.4 C228.5,61.1 229.5,60.8 230.5,60.6 C231.5,60.3 232.5,60.0 233.5,59.8 C234.5,59.5 235.5,59.2 236.5,59.0 C237.5,58.7 238.5,58.5 239.5,58.2 C240.5,57.9 241.5,57.7 242.5,57.4 C243.5,57.2 244.5,56.9 245.5,56.7 C246.5,56.4 247.5,56.2 248.5,55.9 C249.5,55.7 250.5,55.4 251.5,55.2 C252.5,54.9 253.5,54.7 254.5,54.4 C255.5,54.2 256.5,53.9 257.5,53.7 C258.5,53.4 259.5,53.2 260.5,53.0 C261.5,52.7 262.5,52.5 263.5,52.2 C264.5,52.0 265.5,51.7 266.5,51.5 C267.5,51.3 268.5,51.0 269.5,50.8 C270.5,50.5 271.5,50.3 272.5,50.1 C273.5,49.8 274.5,49.6 275.5,49.4 C276.5,49.1 277.5,48.9 278.5,48.7 C279.5,48.4 280.5,48.2 281.5,47.9 C282.5,47.7 283.5,47.5 284.5,47.2 C285.5,47.0 286.5,46.8 287.5,46.5 C288.5,46.3 289.5,46.1 290.5,45.8 C291.5,45.6 292.5,45.4 293.5,45.1 C294.5,44.9 295.5,44.7 296.5,44.4 C297.5,44.2 298.5,44.0 299.5,43.7 C300.5,43.5 301.5,43.3 302.5,43.1 C303.5,42.8 304.5,42.6 305.5,42.4 C306.5,42.1 307.5,41.9 308.5,41.7 C309.5,41.4 310.5,41.2 311.5,41.0 C312.5,40.7 313.5,40.5 314.5,40.3 C315.5,40.0 316.5,39.8 317.5,39.5 C318.5,39.3 319.5,39.1 320.5,38.8 C321.5,38.6 322.5,38.4 323.5,38.1 C324.5,37.9 325.5,37.7 326.5,37.4 C327.5,37.2 328.5,36.9 329.5,36.7 C330.5,36.5 331.5,36.2 332.5,36.0 C333.5,35.7 334.5,35.5 335.5,35.2 C336.5,35.0 337.5,34.8 338.5,34.5 C339.5,34.3 340.5,34.0 341.5,33.8 C342.5,33.5 343.5,33.3 344.5,33.1 C345.5,32.8 346.5,32.6 347.5,32.4 C348.5,32.1 349.5,31.9 350.5,31.7 C351.5,31.4 352.5,31.2 353.5,31.0 C354.5,30.8 355.5,30.6 356.5,30.4 C357.5,30.2 358.5,30.0 359.5,29.8 C360.5,29.6 361.5,29.4 362.5,29.3 C363.5,29.1 364.5,28.9 365.5,28.8 C366.5,28.6 367.5,28.5 368.5,28.3 C369.5,28.2 370.5,28.1 371.5,28.0 C372.5,27.8 373.5,27.7 374.5,27.6 C375.5,27.5 376.5,27.4 377.5,27.3 C378.5,27.3 379.5,27.2 380.5,27.1 C381.5,27.1 382.5,27.0 383.5,26.9 C384.5,26.9 385.5,26.9 386.5,26.8 C387.5,26.8 388.5,26.8 389.5,26.7 C390.5,26.7 391.5,26.7 392.5,26.7 C393.5,26.7 394.5,26.7 395.5,26.7 C396.5,26.8 397.5,26.8 398.5,26.8 C399.5,26.9 400.5,26.9 401.5,27.0 C402.5,27.0 403.5,27.1 404.5,27.2 C405.5,27.3 406.5,27.3 407.5,27.5 C408.5,27.6 409.5,27.7 410.5,27.8 C411.5,28.0 412.5,28.1 413.5,28.3 C414.5,28.4 415.5,28.6 416.5,28.8 C417.5,29.0 418.5,29.3 419.5,29.5 C420.5,29.7 421.5,30.0 422.5,30.3 C423.5,30.5 424.5,30.8 425.5,31.2 C426.5,31.5 427.5,31.8 428.5,32.2 C429.5,32.5 430.5,32.9 431.5,33.3 C432.5,33.8 433.5,34.2 434.5,34.6 C435.5,35.1 436.5,35.6 437.5,36.1 C438.5,36.6 439.5,37.1 440.5,37.7 C441.5,38.3 442.5,38.9 443.5,39.5 C444.5,40.1 445.7,40.9 446.5,41.4 C447.3,42.0 448.2,42.6 448.5,42.8" stroke="#0000ff" stroke-dasharray="7.9,5.98" stroke-dashoffset="7.00"/>
</g>
<g clip-path="url(#c)">
<path d="M59.6,87.0H96.5M59.6,85.7v2.6M96.5,85.7v2.6M74.7,57.2V176.4M73.4,57.2h2.6M73.4,176.4h2.6" stroke="#000000" stroke-width="0.8" fill="none"/><circle cx="74.7" cy="87.0" r="3.0" fill="#000000"/>
<path d="M125.4,104.1H146.8M125.4,102.8v2.6M146.8,102.8v2.6M134.7,69.0V153.0M133.4,69.0h2.6M133.4,153.0h2.6" stroke="#000000" stroke-width="0.8" fill="none"/><circle cx="134.7" cy="104.1" r="3.0" fill="#000000"/>
<path d="M163.1,112.7H177.1M163.1,111.4v2.6M177.1,111.4v2.6M168.8,86.2V153.8M167.5,86.2h2.6M167.5,153.8h2.6" stroke="#000000" stroke-width="0.8" fill="none"/><circle cx="168.8" cy="112.7" r="3.0" fill="#000000"/>
<path d="M188.4,140.8H201.0M188.4,139.5v2.6M201.0,139.5v2.6M194.5,109.4V175.1M193.2,109.4h2.6M193.2,175.1h2.6" stroke="#000000" stroke-width="0.8" fill="none"/><circle cx="194.5" cy="140.8" r="3.0" fill="#000000"/>
<path d="M209.0,171.9H219.8M209.0,170.6v2.6M219.8,170.6v2.6M213.6,142.3V205.3M212.3,142.3h2.6M212.3,205.3h2.6" stroke="#000000" stroke-width="0.8" fill="none"/><circle cx="213.6" cy="171.9" r="3.0" fill="#000000"/>
<path d="M231.1,238.0V257.4M229.8,238.0h2.6M229.8,257.4h2.6" stroke="#000000" stroke-width="0.8" fill="none"/><circle cx="231.1" cy="247.2" r="3.0" fill="#000000"/>
<path d="M244.4,230.7V259.8M243.1,230.7h2.6M243.1,259.8h2.6" stroke="#000000" stroke-width="0.8" fill="none"/><circle cx="244.4" cy="243.0" r="3.0" fill="#000000"/>
<path d="M71.2,84.5V95.0M69.9,84.5h2.6M69.9,95.0h2.6" stroke="#ff0000" stroke-width="0.8" fill="none"/><circle cx="71.2" cy="90.0" r="3.0" fill="#ff0000"/>
<path d="M179.4,96.3V108.1M178.1,96.3h2.6M178.1,108.1h2.6" stroke="#ff0000" stroke-width="0.8" fill="none"/><circle cx="179.4" cy="102.6" r="3.0" fill="#ff0000"/>
<path d="M202.8,94.6V102.6M201.5,94.6h2.6M201.5,102.6h2.6" stroke="#ff0000" stroke-width="0.8" fill="none"/><circle cx="202.8" cy="98.1" r="3.0" fill="#ff0000"/>
<path d="M312.0,98.1V107.1M310.7,98.1h2.6M310.7,107.1h2.6" stroke="#ff0000" stroke-width="0.8" fill="none"/><circle cx="312.0" cy="102.6" r="3.0" fill="#ff0000"/>
<path d="M322.3,98.8V113.9M321.0,98.8h2.6M321.0,113.9h2.6" stroke="#ff0000" stroke-width="0.8" fill="none"/><circle cx="322.3" cy="104.6" r="3.0" fill="#ff0000"/>
<circle cx="321.8" cy="107.6" r="3.0" fill="#ff0000"/>
<circle cx="344.2" cy="107.6" r="2.0" fill="#ff0000"/>
<path d="M361.0,101.4V108.1M359.7,101.4h2.6M359.7,108.1h2.6" stroke="#ff0000" stroke-width="0.8" fill="none"/><circle cx="361.0" cy="104.6" r="2.3" fill="#ff0000"/>
<path d="M372.5,116.0V128.0M371.2,116.0h2.6M371.2,128.0h2.6" stroke="#ff0000" stroke-width="0.8" fill="none"/><circle cx="372.5" cy="121.5" r="3.0" fill="#ff0000"/>
<path d="M380.2,102.1V112.2M378.9,102.1h2.6M378.9,112.2h2.6" stroke="#ff0000" stroke-width="0.8" fill="none"/><circle cx="380.2" cy="106.4" r="3.0" fill="#ff0000"/>
<path d="M437.2,119.7V129.0M435.9,119.7h2.6M435.9,129.0h2.6" stroke="#ff0000" stroke-width="0.8" fill="none"/><circle cx="437.2" cy="124.5" r="2.2" fill="#ff0000"/>
<circle cx="449.6" cy="119.4" r="2.3" fill="#ff0000"/>
<path d="M65.6,60.3H86.7M65.6,59.0v2.6M86.7,59.0v2.6M76.7,54.7V66.3M75.4,54.7h2.6M75.4,66.3h2.6" stroke="#0000c8" stroke-width="0.8" fill="none"/><circle cx="76.7" cy="60.3" r="3.0" fill="#0000c8"/>
<path d="M133.5,62.0H173.9M133.5,60.7v2.6M173.9,60.7v2.6M155.5,60.5V63.5M154.2,60.5h2.6M154.2,63.5h2.6" stroke="#0000c8" stroke-width="0.8" fill="none"/><circle cx="155.5" cy="62.0" r="3.0" fill="#0000c8"/>
<path d="M193.2,64.8H213.0M193.2,63.5v2.6M213.0,63.5v2.6M205.3,63.0V66.5M204.0,63.0h2.6M204.0,66.5h2.6" stroke="#0000c8" stroke-width="0.8" fill="none"/><circle cx="205.3" cy="64.8" r="3.0" fill="#0000c8"/>
<path d="M232.4,70.3H246.0M232.4,69.0v2.6M246.0,69.0v2.6M239.2,66.8V74.8M237.9,66.8h2.6M237.9,74.8h2.6" stroke="#0000c8" stroke-width="0.8" fill="none"/><circle cx="239.2" cy="70.3" r="3.0" fill="#0000c8"/>
<path d="M282.0,84.7H297.4M282.0,83.4v2.6M297.4,83.4v2.6M289.6,80.4V89.4M288.3,80.4h2.6M288.3,89.4h2.6" stroke="#0000c8" stroke-width="0.8" fill="none"/><circle cx="289.6" cy="84.7" r="3.0" fill="#0000c8"/>
<path d="M302.5,80.0H314.8M302.5,78.7v2.6M314.8,78.7v2.6M308.8,76.0V85.0M307.5,76.0h2.6M307.5,85.0h2.6" stroke="#0000c8" stroke-width="0.8" fill="none"/><circle cx="308.8" cy="80.0" r="3.0" fill="#0000c8"/>
<path d="M329.8,87.5H346.7M329.8,86.2v2.6M346.7,86.2v2.6M338.6,83.0V92.6M337.3,83.0h2.6M337.3,92.6h2.6" stroke="#0000c8" stroke-width="0.8" fill="none"/><circle cx="338.6" cy="87.5" r="3.0" fill="#0000c8"/>
<path d="M350.5,107.6H363.5M350.5,106.3v2.6M363.5,106.3v2.6M357.0,98.8V118.2M355.7,98.8h2.6M355.7,118.2h2.6" stroke="#0000c8" stroke-width="0.8" fill="none"/><circle cx="357.0" cy="107.6" r="3.0" fill="#0000c8"/>
<path d="M385.2,112.0L389.2,112.0L387.2,116.0Z" fill="#0000c8"/>
<path d="M428.7,123.9L432.7,123.9L430.7,127.9Z" fill="#0000c8"/>
</g>
<circle cx="81.5" cy="203.8" r="3" fill="#000"/>
<path d="M62.9,225.2H99.8" stroke="#000" stroke-width="1.8"/>
<path d="M62.9,246.9H99.8" stroke="#000" stroke-width="1.8" stroke-dasharray="7.9,6.1"/>
<g font-family="Liberation Serif, serif" font-size="12" fill="#000">
<text x="105.8" y="207.6">observations</text>
<text x="105.8" y="229.8">D2</text>
<text x="105.8" y="251.4">D3</text>
</g>
<text y="223.8" fill="#0000ff" font-family="Liberation Serif, serif" font-size="11.5"><tspan x="261.4" font-style="italic">W2</tspan><tspan x="280.1">(1.56</tspan><tspan x="313.7">10</tspan><tspan dy="-4.3" font-size="8.6">15</tspan><tspan dy="4.3"> Hz)</tspan></text>
<path d="M304.8,216.8L312.4,223.4M304.8,223.4L312.4,216.8" stroke="#0000ff" stroke-width="0.9" fill="none"/>
<text y="238.2" fill="#ff0000" font-family="Liberation Serif, serif" font-size="11.5"><tspan x="269.9" font-style="italic">r</tspan><tspan x="280.4">(4.68</tspan><tspan x="314.0">10</tspan><tspan dy="-4.3" font-size="8.6">14</tspan><tspan dy="4.3"> Hz)</tspan></text>
<path d="M305.1,231.2L312.7,237.8M305.1,237.8L312.7,231.2" stroke="#ff0000" stroke-width="0.9" fill="none"/>
<text y="252.7" fill="#000000" font-family="Liberation Serif, serif" font-size="11.5"><tspan x="267.2" font-style="italic">X</tspan><tspan x="281.6">(2.42</tspan><tspan x="315.2">10</tspan><tspan dy="-4.3" font-size="8.6">18</tspan><tspan dy="4.3"> Hz)</tspan></text>
<path d="M306.3,245.7L313.9,252.3M306.3,252.3L313.9,245.7" stroke="#000000" stroke-width="0.9" fill="none"/>
<g font-family="Liberation Serif, serif" font-size="14" fill="#000" text-anchor="middle">
<text x="107.5" y="276.9">0.1</text>
<text x="167.8" y="276.9">0.2</text>
<text x="247.6" y="276.9">0.5</text>
<text x="307.9" y="276.9">1.0</text>
<text x="368.2" y="276.9">2.0</text>
<text x="448.0" y="276.9">5.0</text>
</g>
<g font-family="Liberation Serif, serif" font-size="15.3" fill="#000" text-anchor="end">
<text x="44.3" y="21.1">10<tspan dy="-4.8" font-size="10.2">−4</tspan></text>
<text x="44.3" y="82.8">10<tspan dy="-4.8" font-size="10.2">−5</tspan></text>
<text x="44.3" y="144.6">10<tspan dy="-4.8" font-size="10.2">−6</tspan></text>
<text x="44.3" y="206.4">10<tspan dy="-4.8" font-size="10.2">−7</tspan></text>
<text x="44.3" y="268.1">10<tspan dy="-4.8" font-size="10.2">−8</tspan></text>
</g>
<text x="247.4" y="295" font-family="Liberation Serif, serif" font-size="14.5" text-anchor="middle">Time since burst (days)</text>
<text transform="translate(11.6,140.6) rotate(-90)" font-family="Liberation Serif, serif" font-size="14.3" text-anchor="middle">Flux density (Jy)</text>
</svg></body></html>
